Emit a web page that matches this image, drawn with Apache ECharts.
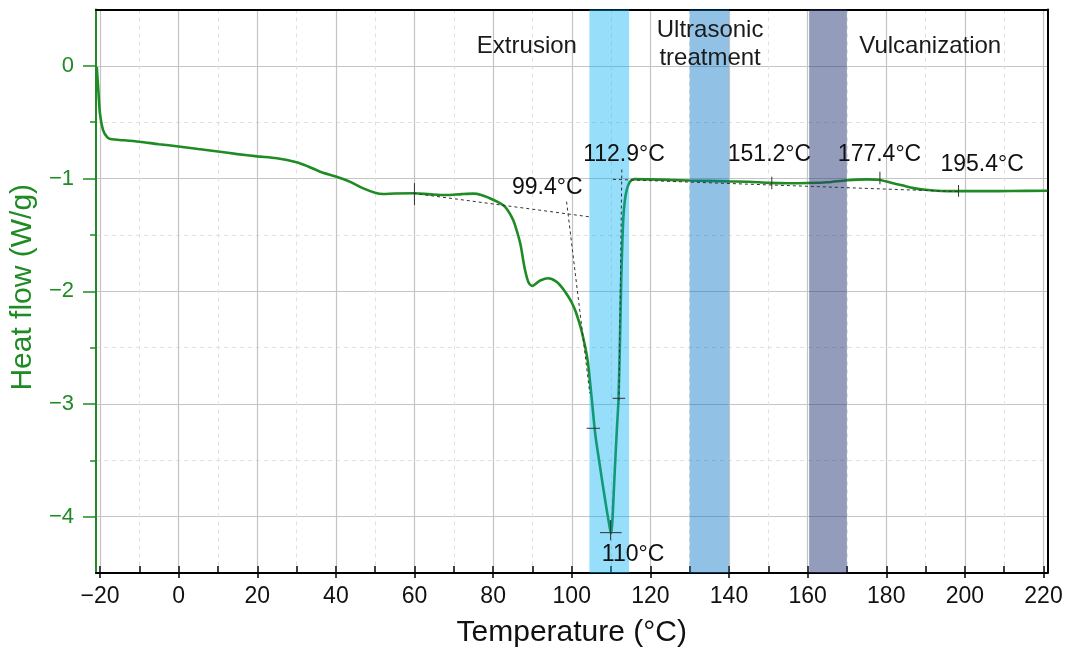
<!DOCTYPE html>
<html>
<head>
<meta charset="utf-8">
<script src="https://cdn.jsdelivr.net/npm/echarts@6.0.0/dist/echarts.min.js"></script>
<style>
html, body { margin: 0; background: #fff; }
#chart { width: 1068px; height: 653px; }
</style>
</head>
<body>
<div id="chart"></div>
<script>
// DSC curve
var temps = [-20.8, -20.4, -20.0, -19.2, -18.1, -17.0, -14, -10, -5, 0, 5, 10, 15, 20, 25, 30, 33, 36, 40, 43.5,
  47, 50, 52, 55, 60, 64, 68, 72, 75, 77, 79, 81, 83, 85, 86, 87, 88, 89, 90, 91, 92, 94, 96, 97.5, 99, 100, 101,
  102.5, 104, 105, 106, 107, 108, 109, 109.5, 110, 110.3, 110.6, 111.0, 111.5, 111.9, 112.3, 112.6, 113.1, 113.5,
  114.0, 114.8, 116, 120, 125, 130, 135, 140, 145, 150, 155, 160, 165, 170, 175, 178, 181, 184, 187, 190, 194, 198,
  205, 212, 221];
var heatFlow = [-0.01, -0.22, -0.42, -0.57, -0.635, -0.652, -0.66, -0.673, -0.695, -0.715, -0.738, -0.76, -0.783,
  -0.803, -0.82, -0.855, -0.893, -0.939, -0.982, -1.027, -1.087, -1.126, -1.137, -1.132, -1.131, -1.14, -1.146,
  -1.138, -1.134, -1.145, -1.172, -1.205, -1.25, -1.36, -1.46, -1.59, -1.79, -1.92, -1.953, -1.93, -1.905, -1.885,
  -1.912, -1.965, -2.04, -2.1, -2.18, -2.35, -2.6, -2.92, -3.27, -3.51, -3.74, -3.96, -4.06, -4.15, -4.06, -3.86,
  -3.56, -3.22, -2.96, -2.4, -1.9, -1.37, -1.2, -1.1, -1.028, -1.005, -1.007, -1.012, -1.017, -1.021, -1.025, -1.028,
  -1.038, -1.042, -1.04, -1.033, -1.015, -1.007, -1.01, -1.035, -1.06, -1.085, -1.1, -1.11, -1.112, -1.112, -1.11,
  -1.108];

// process windows (temperature ranges)
var bandNames = ['Extrusion', 'Ultrasonic treatment', 'Vulcanization'];
var bandFrom = [104.5, 130, 160.4];
var bandTo = [114.6, 140, 170];
var bandColors = ['rgba(0,176,240,0.41)', 'rgba(0,112,192,0.43)', 'rgba(40,60,120,0.5)'];

// band captions
var captionText = ['Extrusion', 'Ultrasonic\ntreatment', 'Vulcanization'];
var captionT = [88.6, 135.2, 191.2];
var captionV = [0.176, 0.19, 0.176];

// onset / peak annotations
var annotText = ['99.4°C', '112.9°C', '110°C', '151.2°C', '177.4°C', '195.4°C'];
var annotT = [93.8, 113.3, 115.6, 150.3, 178.3, 204.4];
var annotV = [-1.084, -0.791, -4.336, -0.791, -0.791, -0.877];

// dashed construction lines [[T1, v1], [T2, v2]]
var guideLines = [
  [[59.7, -1.131], [104.4, -1.339]],
  [[98.7, -1.205], [104.6, -2.905]],
  [[112.75, -0.92], [112.0, -3.0]],
  [[110.5, -1.007], [198.8, -1.117]]
];
// short solid marks
var markSegs = [
  [[60, -1.04], [60, -1.235]],
  [[103.8, -3.216], [107.2, -3.216]],
  [[110.4, -2.95], [113.6, -2.95]],
  [[107.2, -4.142], [112.7, -4.142]],
  [[109.9, -4.03], [109.9, -4.21]],
  [[150.9, -0.984], [150.9, -1.095]],
  [[178.4, -0.939], [178.4, -1.051]],
  [[198.4, -1.057], [198.4, -1.161]]
];

var FONT = '"Liberation Sans", Arial, sans-serif';
var GREEN = '#1f8b24';

function joinSegs(segs) {
  var out = [];
  segs.forEach(function (s, i) {
    if (i > 0) out.push([s[0][0], null]);
    out.push(s[0], s[1]);
  });
  return out;
}
function minus(v) { return String(v).replace('-', '\u2212'); }

var curve = temps.map(function (t, i) { return [t, heatFlow[i]]; });

var bandAreas = bandNames.map(function (n, i) {
  return [{ name: n, xAxis: bandFrom[i], itemStyle: { color: bandColors[i] } }, { xAxis: bandTo[i] }];
});

var chart = echarts.init(document.getElementById('chart'));
var frameLine = function (color) {
  return {
    axisLine: { show: true, onZero: false, lineStyle: { color: color, width: 2 } },
    axisTick: { show: false }, axisLabel: { show: false }, splitLine: { show: false }
  };
};

var option = {
  animation: false,
  backgroundColor: '#fff',
  grid: [
    { left: 96, right: 20.6, top: 9.5, bottom: 80 },
    { left: 100, right: 24.5, top: 9.5, bottom: 80 },
    { left: 96, right: 20.6, top: 65.85, bottom: 136.35 }
  ],
  xAxis: [
    Object.assign({ gridIndex: 0, type: 'value', min: -21, max: 221 }, frameLine('#000')),
    Object.assign({ gridIndex: 0, type: 'value', position: 'top', min: -21, max: 221 }, frameLine('#000')),
    {
      gridIndex: 1, type: 'value', min: -20, max: 220, interval: 20,
      axisLine: { show: false, onZero: false },
      axisTick: { show: true, length: 12, lineStyle: { color: '#000', width: 1.5 } },
      minorTick: { show: true, splitNumber: 2, length: 6, lineStyle: { color: '#000', width: 1.5 } },
      axisLabel: { color: '#111', fontSize: 23, fontFamily: FONT, margin: 19, formatter: minus },
      splitLine: { show: true, lineStyle: { color: '#c4c4c4', width: 1.2 } },
      minorSplitLine: { show: true, lineStyle: { color: '#e0e0e0', width: 1, type: [4, 4] } },
      name: 'Temperature (°C)', nameLocation: 'middle', nameGap: 52,
      nameTextStyle: { color: '#111', fontSize: 30, fontFamily: FONT }
    },
    { gridIndex: 2, type: 'value', min: -21, max: 221, show: false }
  ],
  yAxis: [
    Object.assign({ gridIndex: 0, type: 'value', min: -4.5, max: 0.5 }, frameLine(GREEN)),
    Object.assign({ gridIndex: 0, type: 'value', position: 'right', min: -4.5, max: 0.5 }, frameLine('#000')),
    { gridIndex: 1, type: 'value', min: -4.5, max: 0.5, show: false },
    {
      gridIndex: 2, type: 'value', min: -4, max: 0, interval: 1,
      axisLine: { show: false, onZero: false },
      axisTick: { show: true, length: 13, lineStyle: { color: GREEN, width: 1.5 } },
      minorTick: { show: true, splitNumber: 2, length: 6, lineStyle: { color: GREEN, width: 1.5 } },
      axisLabel: { color: GREEN, fontSize: 22, fontFamily: FONT, margin: 22, formatter: minus },
      splitLine: { show: true, lineStyle: { color: '#c4c4c4', width: 1.2 } },
      minorSplitLine: { show: true, lineStyle: { color: '#e0e0e0', width: 1, type: [4, 4] } },
      name: 'Heat flow (W/g)', nameLocation: 'middle', nameGap: 56,
      nameTextStyle: { color: GREEN, fontSize: 30, fontFamily: FONT, padding: [0, 0, 0, 8] }
    }
  ],
  series: [
    {
      name: 'Heat flow', type: 'line', xAxisIndex: 0, yAxisIndex: 0,
      data: curve, smooth: 0.3, showSymbol: false, z: 2,
      lineStyle: { color: GREEN, width: 2.6 }
    },
    {
      name: 'bands', type: 'line', xAxisIndex: 0, yAxisIndex: 0, data: [], z: 5,
      markArea: { silent: true, z: 5, label: { show: false }, data: bandAreas }
    },
    {
      name: 'guides', type: 'line', xAxisIndex: 0, yAxisIndex: 0, z: 6,
      data: joinSegs(guideLines), showSymbol: false, connectNulls: false,
      lineStyle: { color: '#333', width: 1, type: [3, 3] }
    },
    {
      name: 'marks', type: 'line', xAxisIndex: 0, yAxisIndex: 0, z: 6,
      data: joinSegs(markSegs), showSymbol: false, connectNulls: false,
      lineStyle: { color: '#333', width: 1 }
    },
    {
      name: 'annotations', type: 'scatter', xAxisIndex: 0, yAxisIndex: 0, z: 7,
      symbolSize: 0, itemStyle: { opacity: 1 },
      data: annotText.map(function (s, i) { return { name: s, value: [annotT[i], annotV[i]] }; }),
      label: {
        show: true, position: 'inside', formatter: '{b}',
        color: '#111', fontSize: 23, fontFamily: FONT
      }
    },
    {
      name: 'captions', type: 'scatter', xAxisIndex: 0, yAxisIndex: 0, z: 7,
      symbolSize: 0, itemStyle: { opacity: 1 },
      data: captionText.map(function (s, i) { return { name: s, value: [captionT[i], captionV[i]] }; }),
      label: {
        show: true, position: 'inside', formatter: '{b}', lineHeight: 28,
        color: '#1a1a1a', fontSize: 24, fontFamily: FONT
      }
    }
  ]
};
chart.setOption(option);
</script>
</body>
</html>
